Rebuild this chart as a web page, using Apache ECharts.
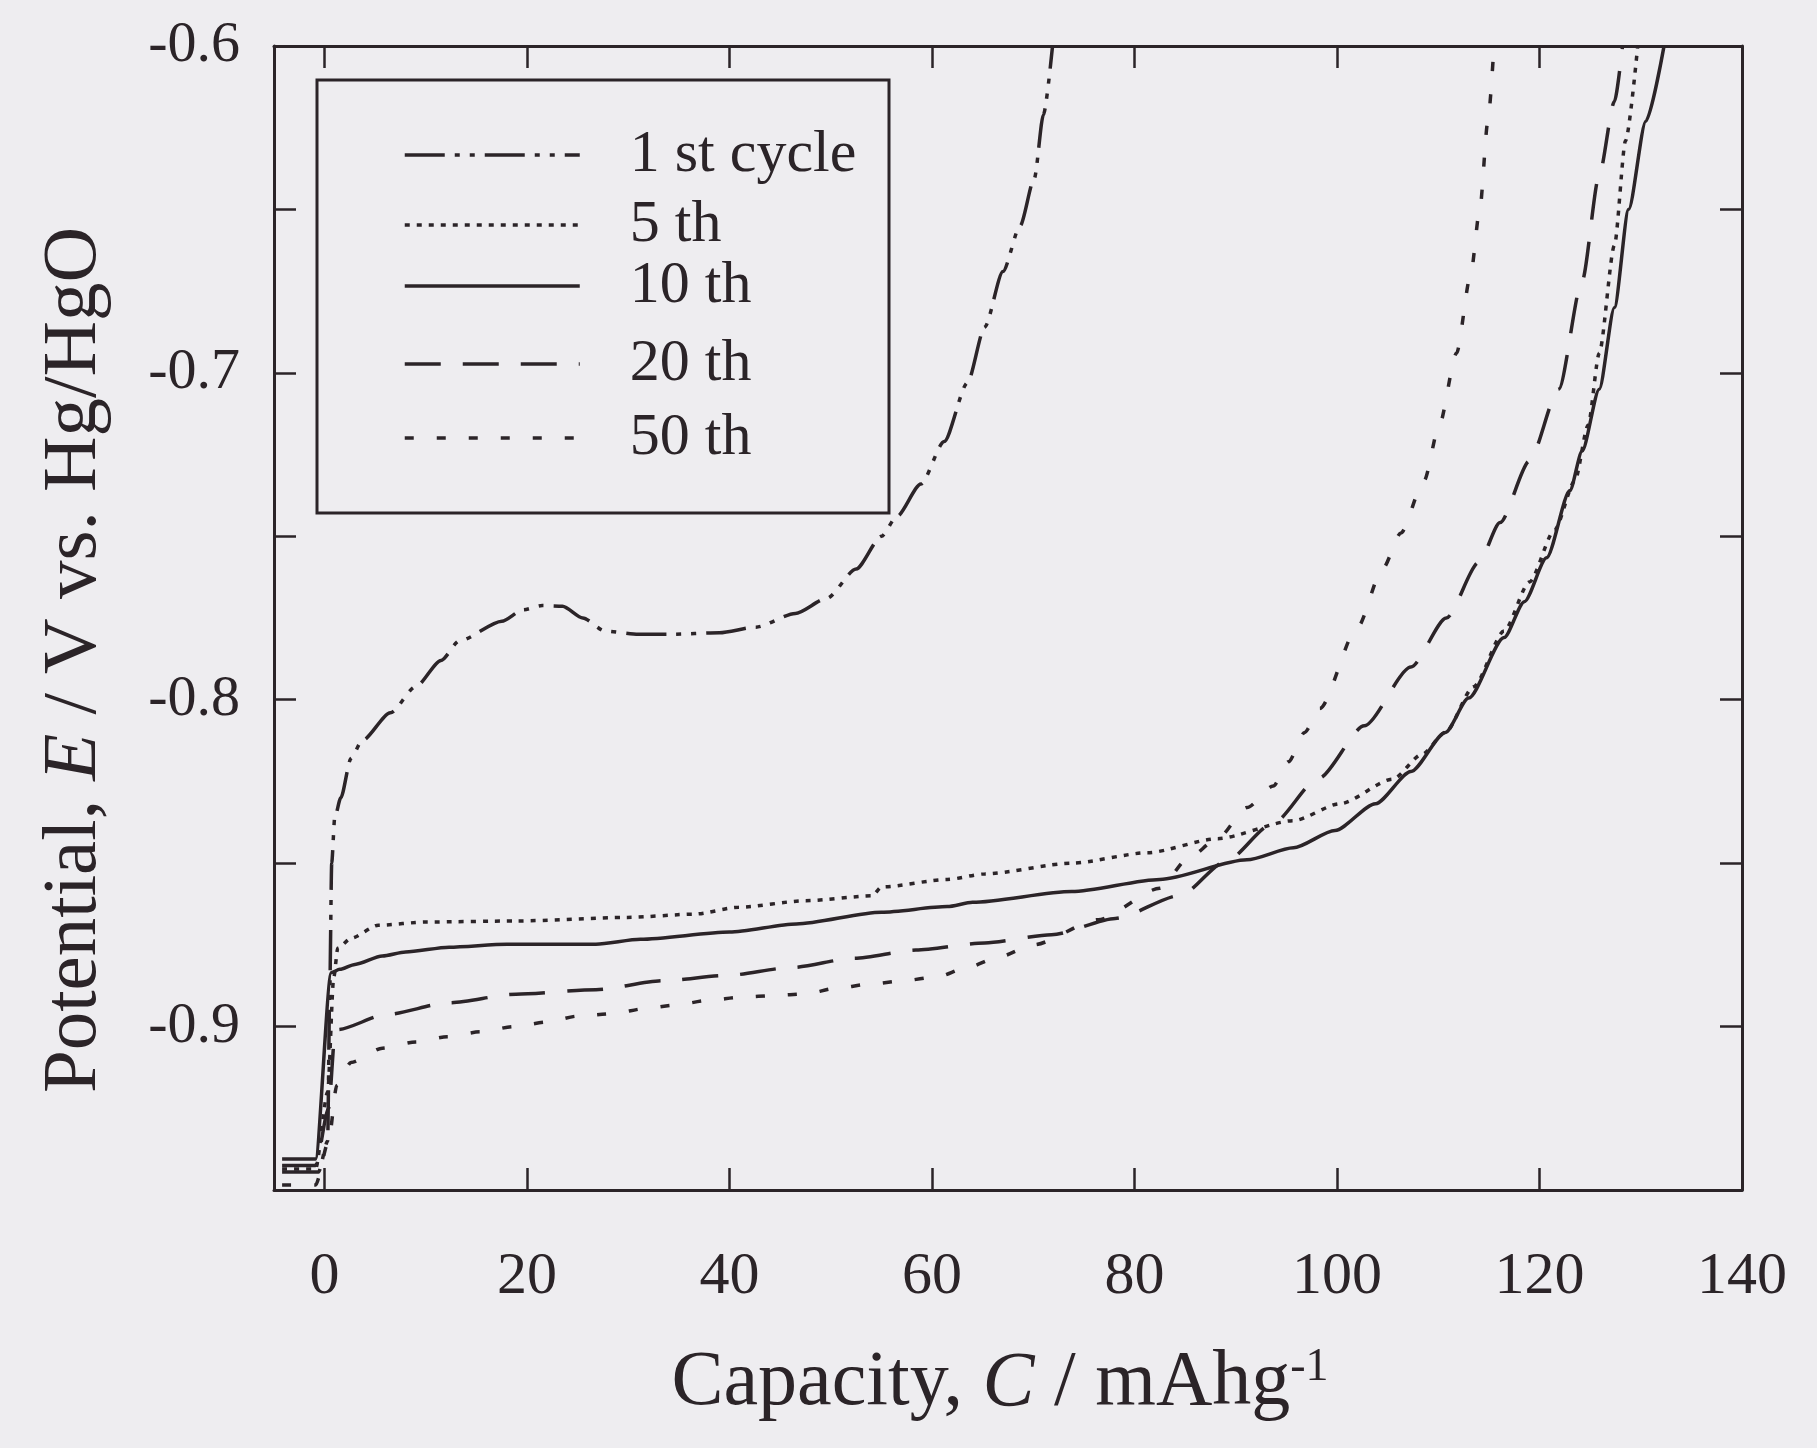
<!DOCTYPE html>
<html><head><meta charset="utf-8">
<script src="https://cdn.jsdelivr.net/npm/echarts@6/dist/echarts.min.js"></script>
<style>html,body{margin:0;padding:0;background:#eeedf0}#c{width:1817px;height:1448px}</style>
</head><body><div id="c"></div>
<script>
// ---- data ----
const seriesNames = ['1 st cycle', '5 th', '10 th', '20 th', '50 th'];
const cycle1 = [[-4.2,-0.9445],[-0.6,-0.9445],[0.3,-0.935],[0.5,-0.89],[0.7,-0.85],[1.0,-0.836],[1.6,-0.830],[2.6,-0.818],[3.7,-0.8125],[6.5,-0.804],[9.0,-0.796],[11.5,-0.788],[13.3,-0.782],[17.5,-0.776],[19.6,-0.7725],[21.5,-0.7712],[23.5,-0.7714],[25.5,-0.775],[27.7,-0.779],[31.0,-0.780],[34.1,-0.780],[39.0,-0.7795],[42.6,-0.7778],[46.5,-0.7736],[49.6,-0.769],[52.5,-0.760],[55.0,-0.750],[56.5,-0.744],[58.9,-0.734],[61.2,-0.721],[63.5,-0.703],[65.2,-0.686],[67.0,-0.669],[68.7,-0.655],[70.1,-0.6405],[71.0,-0.621],[71.9,-0.600]];
const cycle5 = [[-4.2,-0.9436],[-0.9,-0.9436],[0.3,-0.92],[0.9,-0.885],[1.3,-0.876],[2.6,-0.873],[5.3,-0.869],[10.1,-0.868],[18.9,-0.8677],[29.9,-0.8666],[36.5,-0.8656],[40.9,-0.8635],[47.5,-0.8615],[54.1,-0.860],[55.0,-0.8573],[61.5,-0.855],[65.2,-0.8533],[73.8,-0.850],[81.3,-0.8468],[88.2,-0.8425],[95.7,-0.837],[100.3,-0.8318],[105.5,-0.8243],[108.4,-0.8167],[110.7,-0.810],[113.5,-0.796],[116.5,-0.779],[119.0,-0.764],[121.5,-0.748],[123.5,-0.733],[124.8,-0.716],[125.9,-0.694],[127.4,-0.661],[128.5,-0.629],[129.7,-0.600]];
const cycle10 = [[-4.2,-0.9405],[-0.9,-0.9405],[0.65,-0.8835],[1.5,-0.8825],[3.0,-0.881],[5.7,-0.8784],[8.0,-0.8772],[12.3,-0.8757],[18.0,-0.8748],[26.8,-0.8748],[31.2,-0.8733],[40.0,-0.8711],[46.6,-0.8686],[55.0,-0.865],[61.5,-0.8633],[64.0,-0.862],[73.8,-0.8587],[82.5,-0.855],[91.1,-0.849],[95.7,-0.8453],[99.8,-0.840],[103.8,-0.8318],[107.3,-0.822],[110.7,-0.810],[113.0,-0.7995],[116.5,-0.781],[118.5,-0.770],[120.7,-0.7566],[123.0,-0.736],[124.2,-0.724],[125.9,-0.705],[127.4,-0.680],[128.8,-0.650],[130.5,-0.623],[132.3,-0.600]];
const cycle20 = [[-4.2,-0.9425],[-0.9,-0.9425],[0.4,-0.925],[1.0,-0.903],[1.3,-0.9009],[6.1,-0.8963],[12.3,-0.8927],[18.9,-0.8901],[26.8,-0.8887],[33.4,-0.886],[39.6,-0.8844],[46.2,-0.8819],[52.3,-0.8791],[58.4,-0.8766],[65.2,-0.8744],[71.8,-0.8719],[78.1,-0.8669],[84.5,-0.8599],[89.0,-0.8495],[93.6,-0.838],[98.2,-0.824],[102.7,-0.808],[107.3,-0.790],[110.8,-0.775],[114.0,-0.758],[116.1,-0.7458],[119.0,-0.727],[121.9,-0.705],[124.2,-0.672],[125.9,-0.6395],[127.4,-0.617],[128.2,-0.600]];
const cycle50 = [[-4.2,-0.9485],[-0.9,-0.9485],[0.4,-0.935],[1.2,-0.918],[2.6,-0.911],[5.7,-0.9066],[9.0,-0.9047],[12.1,-0.9031],[15.4,-0.9016],[18.7,-0.900],[22.0,-0.8986],[25.0,-0.8968],[28.6,-0.896],[31.6,-0.8945],[34.7,-0.8934],[37.8,-0.892],[41.3,-0.891],[44.4,-0.8905],[47.5,-0.890],[50.5,-0.8883],[53.9,-0.887],[57.1,-0.886],[60.5,-0.8848],[63.4,-0.882],[66.6,-0.8787],[70.0,-0.875],[76.4,-0.8673],[82.5,-0.8577],[85.3,-0.8485],[88.2,-0.8425],[91.1,-0.833],[93.7,-0.8264],[95.2,-0.819],[96.8,-0.810],[98.3,-0.8027],[102.0,-0.778],[104.5,-0.760],[106.3,-0.749],[108.6,-0.733],[110.1,-0.716],[111.8,-0.694],[113.2,-0.670],[114.1,-0.650],[114.9,-0.623],[115.5,-0.600]];
const xTickValues = [0, 20, 40, 60, 80, 100, 120];
const xLabelValues = [0, 20, 40, 60, 80, 100, 120, 140];
const yTickValues = [-0.9, -0.85, -0.8, -0.75, -0.7, -0.65];
const yLabelValues = [-0.9, -0.8, -0.7, -0.6];

// ---- styles ----
const ink = '#2b2428';
const serif = 'Liberation Serif';
const dashes = [[40, 10, 5, 10, 5, 10], [5, 7], 'solid', [36, 22], [9, 23]];
const seriesData = [cycle1, cycle5, cycle10, cycle20, cycle50];
const legendRows = [155, 225, 286, 364, 438];

const chart = echarts.init(document.getElementById('c'), null, {renderer: 'canvas'});

const axisCommonX = {
  type: 'value', min: -5, max: 140,
  axisLine: {show: true, onZero: false, lineStyle: {color: ink, width: 3}},
  splitLine: {show: false}
};
const axisCommonY = {
  type: 'value', min: -0.95, max: -0.6,
  axisLine: {show: true, onZero: false, lineStyle: {color: ink, width: 3}},
  splitLine: {show: false}
};

chart.setOption({
  animation: false,
  backgroundColor: '#eeedf0',
  grid: {left: 274, right: 75, top: 46, bottom: 258, containLabel: false},
  xAxis: [
    Object.assign({}, axisCommonX, {
      position: 'bottom',
      axisTick: {show: true, inside: true, length: 22, customValues: xTickValues, lineStyle: {color: ink, width: 2.5}},
      axisLabel: {show: true, customValues: xLabelValues, fontFamily: serif, fontSize: 60, color: ink, margin: 57}
    }),
    Object.assign({}, axisCommonX, {
      position: 'top',
      axisTick: {show: true, inside: true, length: 22, customValues: xTickValues, lineStyle: {color: ink, width: 2.5}},
      axisLabel: {show: false}
    })
  ],
  yAxis: [
    Object.assign({}, axisCommonY, {
      position: 'left',
      axisTick: {show: true, inside: true, length: 22, customValues: yTickValues, lineStyle: {color: ink, width: 2.5}},
      axisLabel: {show: true, customValues: yLabelValues, fontFamily: serif, fontSize: 58, color: ink, margin: 34,
        formatter: v => v.toFixed(1)}
    }),
    Object.assign({}, axisCommonY, {
      position: 'right',
      axisTick: {show: true, inside: true, length: 22, customValues: yTickValues, lineStyle: {color: ink, width: 2.5}},
      axisLabel: {show: false}
    })
  ],
  legend: seriesNames.map((n, i) => ({
    data: [n], left: 403, top: legendRows[i] - 30, padding: 0, itemGap: 0,
    itemWidth: 175, itemHeight: 10, selectedMode: false,
    itemStyle: {color: 'rgba(0,0,0,0)', borderColor: 'rgba(0,0,0,0)', borderWidth: 0},
    lineStyle: {type: dashes[i], width: 3.5, color: ink},
    textStyle: {fontFamily: serif, fontSize: 60, lineHeight: 60, color: ink, padding: [0, 0, 0, 45]}
  })),
  graphic: [
    {type: 'rect', shape: {x: 317, y: 80, width: 572, height: 433},
     style: {fill: 'none', stroke: ink, lineWidth: 3}, z: 3},
    {type: 'text', x: 1000, y: 1384,
     style: {text: '{n|Capacity, }{i|C}{n| / mAhg}{s|-1}', align: 'center', verticalAlign: 'middle',
       fill: ink,
       rich: {
         n: {fontFamily: serif, fontSize: 78, fill: ink},
         i: {fontFamily: serif, fontSize: 78, fontStyle: 'italic', fill: ink},
         s: {fontFamily: serif, fontSize: 46, fill: ink, verticalAlign: 'top'}
       }}},
    {type: 'text', x: 75, y: 660, rotation: Math.PI / 2,
     style: {text: '{n|Potential, }{i|E}{n| / V vs. Hg/HgO}', align: 'center', verticalAlign: 'middle',
       fill: ink,
       rich: {
         n: {fontFamily: serif, fontSize: 77, fill: ink},
         i: {fontFamily: serif, fontSize: 77, fontStyle: 'italic', fill: ink}
       }}}
  ],
  series: seriesNames.map((n, i) => ({
    name: n, type: 'line', data: seriesData[i],
    xAxisIndex: 0, yAxisIndex: 0,
    symbol: 'none', showSymbol: false,
    smooth: 0.25, smoothMonotone: 'x',
    lineStyle: {type: dashes[i], width: 3.5, color: ink},
    itemStyle: {color: ink},
    emphasis: {disabled: true}
  }))
});
</script></body></html>
